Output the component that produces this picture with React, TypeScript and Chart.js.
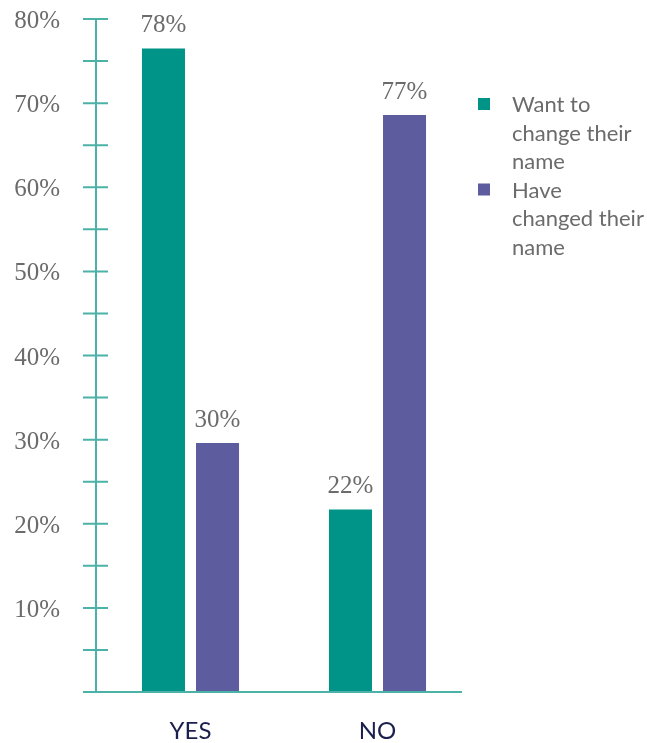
import React, { useEffect, useRef } from "react";
import { Chart, registerables } from "chart.js";

Chart.register(...registerables);

const categories = ["YES", "NO"];
const seriesNames = [["Want to", "change their", "name"], ["Have", "changed their", "name"]];
const wantValues = [76.5, 21.7];
const haveValues = [29.6, 68.6];
const wantLabels = ["78%", "22%"];
const haveLabels = ["30%", "77%"];
const yMajorTicks = [10, 20, 30, 40, 50, 60, 70, 80];
const yMinorTicks = [5, 15, 25, 35, 45, 55, 65, 75];
const yTickLabels = ["10%", "20%", "30%", "40%", "50%", "60%", "70%", "80%"];

const TEAL = "#009388";
const PURPLE = "#5c5c9f";
const AXIS = "#4cb2a8";
const GREY = "#6b6b6b";
const NAVY = "#1b1f4d";

const drawPlugin = {
  id: "customDraw",
  afterDatasetsDraw(chart: any) {
    const ctx = chart.ctx as CanvasRenderingContext2D;
    const y = chart.scales.y;
    const x = chart.scales.x;
    const axisX = chart.chartArea.left - 1;
    const y0 = y.getPixelForValue(0);
    const yTop = y.getPixelForValue(80);
    ctx.save();
    ctx.strokeStyle = AXIS;
    ctx.lineWidth = 2;
    ctx.beginPath();
    ctx.moveTo(axisX, yTop);
    ctx.lineTo(axisX, y0);
    ctx.moveTo(axisX - 13, y0);
    ctx.lineTo(462, y0);
    ctx.stroke();
    ctx.beginPath();
    [...yMajorTicks, ...yMinorTicks].forEach((v) => {
      const py = y.getPixelForValue(v);
      ctx.moveTo(axisX - 13, py);
      ctx.lineTo(axisX + 12, py);
    });
    ctx.stroke();
    ctx.fillStyle = GREY;
    ctx.font = '25px "Liberation Serif"';
    ctx.textAlign = "right";
    ctx.textBaseline = "alphabetic";
    yMajorTicks.forEach((v, i) => {
      const py = y.getPixelForValue(v);
      ctx.fillText(yTickLabels[i], 60, py + 9);
    });
    ctx.textAlign = "center";
    const labelSets = [wantLabels, haveLabels];
    chart.data.datasets.forEach((ds: any, di: number) => {
      const meta = chart.getDatasetMeta(di);
      meta.data.forEach((bar: any, i: number) => {
        ctx.fillText(labelSets[di][i], bar.x, bar.y - 16);
      });
    });
    ctx.fillStyle = NAVY;
    ctx.font = '24px Lato';
    categories.forEach((c, i) => {
      ctx.fillText(c, x.getPixelForValue(i), 739);
    });
    const colors = [TEAL, PURPLE];
    ctx.font = '22px Lato';
    ctx.textAlign = "left";
    let baseline = 112;
    seriesNames.forEach((lines, si) => {
      ctx.fillStyle = colors[si];
      ctx.fillRect(478, baseline - 14, 12, 12);
      ctx.fillStyle = GREY;
      lines.forEach((ln) => {
        ctx.fillText(ln, 512, baseline);
        baseline += 28.5;
      });
    });
    ctx.restore();
  },
};

export default function App() {
  const ref = useRef<HTMLCanvasElement | null>(null);
  useEffect(() => {
    document.body.style.margin = "0";
    const canvas = ref.current!;
    const chart = new Chart(canvas, {
      type: "bar",
      data: {
        labels: categories,
        datasets: [
          { label: seriesNames[0].join(" "), data: wantValues, backgroundColor: TEAL, barPercentage: 0.796, categoryPercentage: 0.578 },
          { label: seriesNames[1].join(" "), data: haveValues, backgroundColor: PURPLE, barPercentage: 0.796, categoryPercentage: 0.578 },
        ],
      },
      options: {
        responsive: false,
        animation: false,
        layout: { padding: { left: 97, right: 176, top: 19, bottom: 51 } },
        plugins: { legend: { display: false }, tooltip: { enabled: false } },
        scales: {
          x: { display: false },
          y: { display: false, min: 0, max: 80 },
        },
      },
      plugins: [drawPlugin],
    });
    return () => chart.destroy();
  }, []);
  return <canvas ref={ref} width={647} height={743} style={{ display: "block" }} />;
}
